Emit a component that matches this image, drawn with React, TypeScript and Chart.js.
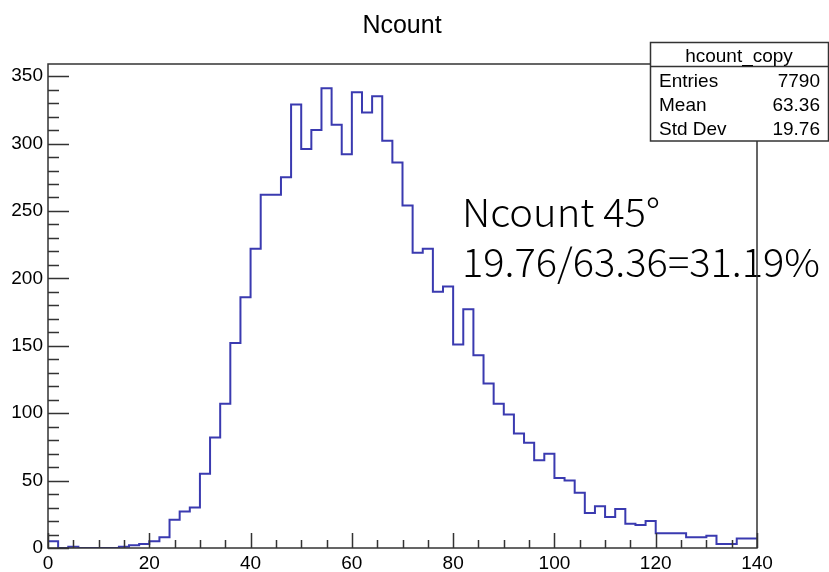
import React, { useEffect, useRef } from "react";
import { Chart, registerables } from "chart.js";

Chart.register(...registerables);

// ---- data ----
const binLow = 0;
const binWidth = 2;
const counts: number[] = [
  5, 0, 1, 0, 0, 0, 0, 1, 2, 3,
  5, 8, 21, 27, 30, 55, 82, 107, 152, 186,
  222, 262, 262, 275, 329, 296, 310, 341, 314, 292,
  338, 323, 335, 302, 286, 254, 219, 222, 190, 194,
  151, 177, 143, 122, 107, 99, 85, 78, 65, 70,
  52, 50, 41, 26, 31, 23, 29, 18, 17, 20,
  11, 11, 11, 8, 8, 9, 3, 3, 7, 7,
];
const xTicks: number[] = [0, 20, 40, 60, 80, 100, 120, 140];
const yTicks: number[] = [0, 50, 100, 150, 200, 250, 300, 350];
const xMinorStep = 5;
const yMinorStep = 10;
const xRange: [number, number] = [0, 140];
const yRange: [number, number] = [0, 359];

const titleText = "Ncount";
const statsName = "hcount_copy";
const statsLabels: string[] = ["Entries", "Mean", "Std Dev"];
const statsValues: string[] = ["7790", "63.36", "19.76"];
const noteLines: string[] = ["Ncount 45°", "19.76/63.36=31.19%"];

const FONT = "'Liberation Sans', Arial, Helvetica, sans-serif";

const rootPlugin = {
  id: "rootStyle",
  beforeDatasetsDraw(chart: any) {
    const ctx = chart.ctx as CanvasRenderingContext2D;
    ctx.save();
    ctx.fillStyle = "#000";
    ctx.textAlign = "left";
    ctx.textBaseline = "alphabetic";
    ctx.font = "300 39px 'Noto Sans CJK SC', 'Noto Sans', sans-serif";
    const lines = [
      { t: noteLines[0], x: 462, y: 226.5, w: 198 },
      { t: noteLines[1], x: 462, y: 276.5, w: 358 },
    ];
    for (const l of lines) {
      const m = ctx.measureText(l.t).width;
      const s = l.w / m;
      ctx.save();
      ctx.translate(l.x, l.y);
      ctx.scale(s, 1);
      ctx.fillText(l.t, 0, 0);
      ctx.restore();
    }
    ctx.restore();
  },
  afterDatasetsDraw(chart: any) {
    const ctx = chart.ctx as CanvasRenderingContext2D;
    const a = chart.chartArea;
    const xs = chart.scales.x;
    const ys = chart.scales.y;
    ctx.save();
    ctx.strokeStyle = "#333";
    ctx.lineWidth = 1.5;
    ctx.strokeRect(a.left, a.top, a.right - a.left, a.bottom - a.top);
    // x ticks
    const xMajLen = 15;
    const xMinLen = 8;
    ctx.beginPath();
    for (let v = xRange[0]; v <= xRange[1] + 1e-9; v += xMinorStep) {
      const px = Math.round(xs.getPixelForValue(v)) + 0.5;
      const major = xTicks.includes(v);
      ctx.moveTo(px, a.bottom);
      ctx.lineTo(px, a.bottom - (major ? xMajLen : xMinLen));
    }
    // y ticks
    const yMajLen = 21;
    const yMinLen = 11;
    for (let v = yRange[0]; v <= yRange[1] + 1e-9; v += yMinorStep) {
      const py = Math.round(ys.getPixelForValue(v)) + 0.5;
      const major = yTicks.includes(v);
      ctx.moveTo(a.left, py);
      ctx.lineTo(a.left + (major ? yMajLen : yMinLen), py);
    }
    ctx.stroke();
    ctx.restore();
  },
  afterDraw(chart: any) {
    const ctx = chart.ctx as CanvasRenderingContext2D;
    ctx.save();
    // title
    ctx.fillStyle = "#000";
    ctx.font = `25px ${FONT}`;
    ctx.textAlign = "center";
    ctx.textBaseline = "alphabetic";
    ctx.fillText(titleText, 402, 33);
    // stats box
    const bx = 650.5, by = 42.5, bw = 178, bh = 98.5;
    ctx.fillStyle = "#fff";
    ctx.fillRect(bx, by, bw, bh);
    ctx.strokeStyle = "#333";
    ctx.lineWidth = 1.5;
    ctx.strokeRect(bx, by, bw, bh);
    ctx.beginPath();
    ctx.moveTo(bx, 66.5);
    ctx.lineTo(bx + bw, 66.5);
    ctx.stroke();
    ctx.fillStyle = "#000";
    ctx.font = `19px ${FONT}`;
    ctx.textAlign = "center";
    ctx.fillText(statsName, 739, 61.5);
    const rowY = [87, 111, 135];
    for (let i = 0; i < statsLabels.length; i++) {
      ctx.textAlign = "left";
      ctx.fillText(statsLabels[i], 659, rowY[i]);
      ctx.textAlign = "right";
      ctx.fillText(statsValues[i], 820, rowY[i]);
    }
    ctx.restore();
  },
};

export default function App() {
  const ref = useRef<HTMLCanvasElement | null>(null);
  useEffect(() => {
    if (!ref.current) return;
    const points = counts.map((c, i) => ({ x: binLow + i * binWidth, y: c }));
    points.push({ x: binLow + counts.length * binWidth, y: counts[counts.length - 1] });
    const chart = new Chart(ref.current, {
      type: "line",
      data: {
        datasets: [
          {
            label: statsName,
            data: points,
            stepped: true,
            borderColor: "#3a3ab0",
            borderWidth: 2,
            pointRadius: 0,
            fill: false,
            tension: 0,
          },
        ],
      },
      options: {
        animation: false,
        responsive: false,
        devicePixelRatio: 1,
        layout: { padding: { top: 64, right: 72, left: 0, bottom: 0 } },
        plugins: {
          legend: { display: false },
          title: { display: false },
          tooltip: { enabled: false },
        },
        scales: {
          x: {
            type: "linear",
            min: xRange[0],
            max: xRange[1],
            grid: { display: false, drawTicks: false },
            border: { display: false },
            afterBuildTicks: (s: any) => {
              s.ticks = xTicks.map((v) => ({ value: v }));
            },
            afterFit: (s: any) => {
              s.height = 24;
            },
            ticks: {
              autoSkip: false,
              maxRotation: 0,
              padding: 4,
              color: "#000",
              font: { family: FONT, size: 19 },
            },
          },
          y: {
            type: "linear",
            min: yRange[0],
            max: yRange[1],
            grid: { display: false, drawTicks: false },
            border: { display: false },
            afterBuildTicks: (s: any) => {
              s.ticks = yTicks.map((v) => ({ value: v }));
            },
            afterFit: (s: any) => {
              s.width = 48;
            },
            ticks: {
              autoSkip: false,
              padding: 5,
              color: "#000",
              font: { family: FONT, size: 19 },
            },
          },
        },
      },
      plugins: [rootPlugin],
    });
    return () => chart.destroy();
  }, []);
  return (
    <div style={{ position: "absolute", left: 0, top: 0, width: 829, height: 572, background: "#fff" }}>
      <canvas ref={ref} width={829} height={572} style={{ display: "block" }} />
    </div>
  );
}
